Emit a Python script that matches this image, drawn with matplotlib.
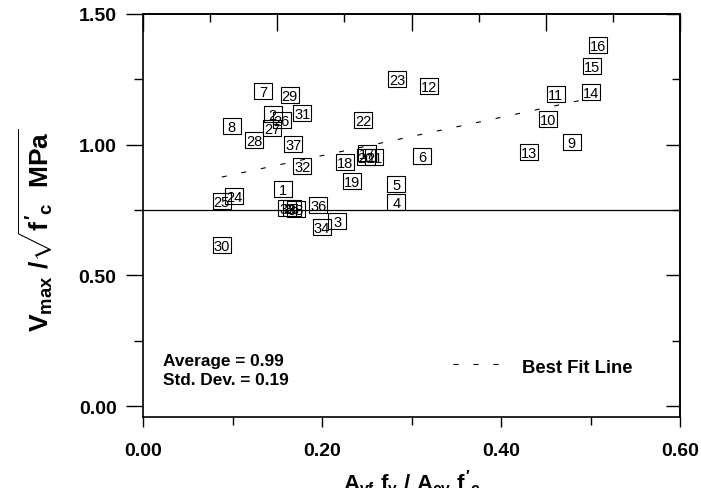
import numpy as np
import matplotlib
matplotlib.use('Agg')
import matplotlib.pyplot as plt
from matplotlib.path import Path

plt.rcParams['font.family'] = ['Liberation Sans', 'DejaVu Sans']
plt.rcParams['mathtext.fontset'] = 'custom'
plt.rcParams['mathtext.rm'] = 'Liberation Sans:bold'
plt.rcParams['mathtext.it'] = 'Liberation Sans:bold'
plt.rcParams['mathtext.bf'] = 'Liberation Sans:bold'
plt.rcParams['mathtext.sf'] = 'Liberation Sans:bold'

# ---- data (specimen id, x = Avf fy / Acv f'c, y = Vmax / sqrt(f'c)) ----
specimen_ids = list(range(1, 39))
x_vals = [0.156, 0.145, 0.217, 0.283, 0.283, 0.312, 0.134, 0.099, 0.479, 0.453,
          0.461, 0.320, 0.431, 0.501, 0.502, 0.508, 0.250, 0.226, 0.234, 0.249,
          0.258, 0.246, 0.284, 0.102, 0.088, 0.155, 0.144, 0.124, 0.164, 0.088,
          0.178, 0.178, 0.161, 0.200, 0.166, 0.196, 0.168, 0.171]
y_vals = [0.830, 1.117, 0.708, 0.781, 0.850, 0.957, 1.206, 1.072, 1.010, 1.098,
          1.194, 1.225, 0.972, 1.202, 1.301, 1.381, 0.968, 0.934, 0.861, 0.953,
          0.953, 1.094, 1.252, 0.804, 0.785, 1.095, 1.064, 1.018, 1.190, 0.616,
          1.121, 0.918, 0.758, 0.685, 0.758, 0.769, 1.003, 0.754]
fit_x = [0.088, 0.488]
fit_y = [0.876, 1.169]
code_limit = 0.75
x_ticks = [0.0, 0.2, 0.4, 0.6]
x_tick_labels = ['0.00', '0.20', '0.40', '0.60']
y_ticks = [0.0, 0.5, 1.0, 1.5]
y_tick_labels = ['0.00', '0.50', '1.00', '1.50']
stats_text = ['Average = 0.99', 'Std. Dev. = 0.19']
legend_text = 'Best Fit Line'

W, H = 701, 489
fig = plt.figure(figsize=(W / 100, H / 100), dpi=100)
ax = fig.add_axes([143 / W, 1 - 418 / H, (680 - 143) / W, (418 - 15) / H])
ax.set_xlim(0, 0.6)
ax.set_ylim(-0.042, 1.5)

for s in ax.spines.values():
    s.set_linewidth(1.2)

# horizontal code line
ax.axhline(code_limit, color='black', lw=0.9)

# best fit line
dash = (0, (4.5, 13.5))
ax.plot(fit_x, fit_y, color='black', lw=0.8, linestyle=dash)

# boxed specimen numbers
rect = Path([(-9, -7.5), (9, -7.5), (9, 7.5), (-9, 7.5), (-9, -7.5)],
            [Path.MOVETO, Path.LINETO, Path.LINETO, Path.LINETO, Path.CLOSEPOLY])
ax.plot(x_vals, y_vals, linestyle='', marker=rect, ms=13, mfc='none',
        mec='black', mew=0.8)
for n, xv, yv in zip(specimen_ids, x_vals, y_vals):
    ax.annotate(str(n), (xv, yv), xytext=(0, -3.7), textcoords='offset points',
                ha='center', va='baseline', fontsize=10.5)

# ticks
ax.set_xticks(x_ticks)
ax.set_xticklabels(x_tick_labels)
ax.set_xticks([0.1, 0.3, 0.5], minor=True)
ax.set_yticks(y_ticks)
ax.set_yticklabels(y_tick_labels)
ax.set_yticks([0.25, 0.75, 1.25], minor=True)
ax.tick_params(axis='x', which='major', direction='out', length=7, width=1,
               pad=11, labelsize=14)
ax.tick_params(axis='x', which='minor', direction='out', length=6, width=1)
ax.tick_params(axis='y', which='major', direction='out', length=12, width=1,
               pad=7, labelsize=14)
ax.tick_params(axis='y', which='minor', direction='out', length=6.5, width=1)
for lab in ax.get_xticklabels() + ax.get_yticklabels():
    lab.set_fontweight('bold')

top = ax.secondary_xaxis('top')
top.set_xticks([0.0, 0.15, 0.30, 0.45, 0.6])
top.set_xticks([0.075, 0.225, 0.375, 0.525], minor=True)
top.tick_params(which='major', direction='in', length=12, width=1, labeltop=False)
top.tick_params(which='minor', direction='in', length=6, width=1)
top.spines['top'].set_linewidth(1.2)

right = ax.secondary_yaxis('right')
right.set_yticks(y_ticks)
right.set_yticks([0.25, 0.75, 1.25], minor=True)
right.tick_params(which='major', direction='in', length=10, width=1, labelright=False)
right.tick_params(which='minor', direction='in', length=6, width=1)
right.spines['right'].set_linewidth(1.2)

# axis labels
ax.set_xlabel(r"$A_{vf}\ f_{y}\ /\ A_{cv}\ f'_{c}$", fontsize=16, labelpad=6)
ax.set_ylabel(r"$V_{max}\ /\sqrt{f'_{c}\ \ MPa}$", fontsize=19)
ax.yaxis.set_label_coords(-0.164, 0.466)

# stats text
ax.text(0.037, 0.129, stats_text[0], transform=ax.transAxes, fontsize=12.4,
        fontweight='bold', va='baseline', ha='left')
ax.text(0.037, 0.082, stats_text[1], transform=ax.transAxes, fontsize=12.4,
        fontweight='bold', va='baseline', ha='left')

# legend sample
ax.plot([0.577, 0.665], [0.1315, 0.1315], transform=ax.transAxes, color='black',
        lw=0.8, linestyle=dash)
ax.text(0.706, 0.112, legend_text, transform=ax.transAxes, fontsize=13.3,
        fontweight='bold', va='baseline', ha='left')

fig.savefig('out.png', dpi=100)
